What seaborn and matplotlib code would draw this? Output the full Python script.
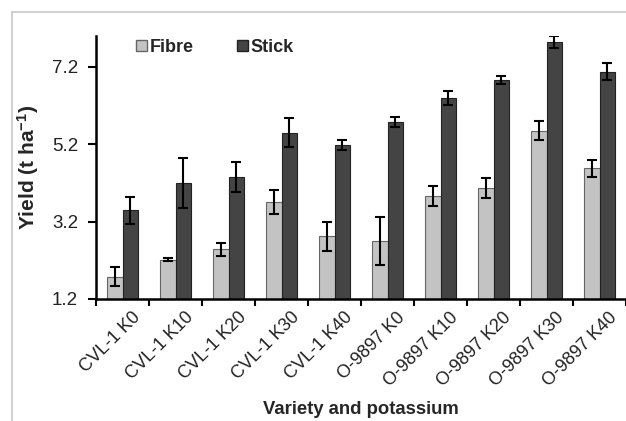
import numpy as np
import pandas as pd
import matplotlib
matplotlib.use("Agg")
import matplotlib.pyplot as plt
import seaborn as sns
from matplotlib.lines import Line2D

# Treatments (variety x potassium dose)
treatments = ["CVL-1 K0", "CVL-1 K10", "CVL-1 K20", "CVL-1 K30", "CVL-1 K40",
              "O-9897 K0", "O-9897 K10", "O-9897 K20", "O-9897 K30", "O-9897 K40"]
# Yields (t/ha)
fibre = [1.78, 2.22, 2.48, 3.71, 2.82, 2.70, 3.86, 4.07, 5.55, 4.58]
fibre_err = [0.25, 0.05, 0.16, 0.32, 0.38, 0.61, 0.26, 0.25, 0.24, 0.22]
stick = [3.49, 4.19, 4.36, 5.50, 5.18, 5.77, 6.40, 6.86, 7.85, 7.07]
stick_err = [0.35, 0.65, 0.39, 0.37, 0.12, 0.13, 0.18, 0.11, 0.15, 0.22]
yticks = [1.2, 3.2, 5.2, 7.2]

sns.set_style("white")
plt.rcParams["font.family"] = ["Liberation Sans", "DejaVu Sans"]
plt.rcParams["mathtext.fontset"] = "custom"
plt.rcParams["mathtext.rm"] = "Liberation Sans:bold"
plt.rcParams["mathtext.default"] = "rm"

df = pd.DataFrame({
    "treatment": treatments * 2,
    "yield": fibre + stick,
    "err": fibre_err + stick_err,
    "part": ["Fibre"] * len(treatments) + ["Stick"] * len(treatments),
})

fig = plt.figure(figsize=(6.26, 4.21), dpi=100)
ax = fig.add_axes([0.1534, 0.2898, 0.8466, 0.6247])

sns.barplot(data=df, x="treatment", y="yield", hue="part",
            palette={"Fibre": "#c3c3c3", "Stick": "#444444"},
            width=0.57, errorbar=None, ax=ax, legend=True)

# edges + error bars
edge = {"Fibre": "#666666", "Stick": "#222222"}
for container, part in zip(ax.containers, ["Fibre", "Stick"]):
    sub = df[df["part"] == part]
    xs = []
    for bar in container:
        bar.set_edgecolor(edge[part])
        bar.set_linewidth(0.8)
        xs.append(bar.get_x() + bar.get_width() / 2)
    ax.errorbar(xs, sub["yield"], yerr=sub["err"], fmt="none",
                ecolor="black", elinewidth=1.5, capsize=3.5, capthick=1.5)

ax.set_ylim(1.2, 8.0)
ax.set_xlim(-0.5, len(treatments) - 0.5)
ax.set_yticks(yticks)
ax.set_yticklabels([f"{v:.1f}" for v in yticks], fontsize=13.5, color="#222222")
# labels sit a little right of the group centre, like Excel does it
ax.set_xticks(np.arange(len(treatments)) + 0.17)
ax.set_xticklabels(treatments, rotation=45, ha="right", rotation_mode="anchor",
                   fontsize=13, color="#222222")
ax.set_xticks(np.arange(-0.5, len(treatments), 1), minor=True)
ax.tick_params(axis="x", which="major", length=0, pad=7)
ax.tick_params(axis="x", which="minor", length=5, width=1.5, color="black", bottom=True)
ax.tick_params(axis="y", length=6, width=1.5, color="black", left=True, pad=7)

for s in ["top", "right"]:
    ax.spines[s].set_visible(False)
for s in ["left", "bottom"]:
    ax.spines[s].set_color("black")
    ax.spines[s].set_linewidth(1.8)

ax.set_ylabel("Yield (t ha$^{-1}$)", fontsize=15, fontweight="bold", labelpad=8)
ax.set_xlabel("Variety and potassium", fontsize=13.3, fontweight="bold", labelpad=8)

leg = ax.legend(loc="upper left", bbox_to_anchor=(0.045, 1.05), ncol=2, frameon=False,
                handlelength=0.6, handleheight=0.6, handletextpad=0.15, columnspacing=2.4,
                prop={"weight": "bold", "size": 13})
for h, part in zip(leg.legend_handles, ["Fibre", "Stick"]):
    h.set_edgecolor(edge[part])

# light gray frame around the chart (cropped on right/bottom)
fig.add_artist(Line2D([11.5 / 626, 11.5 / 626], [0, 1 - 11.5 / 421],
                      transform=fig.transFigure, color="#c8c8c8", lw=1.2))
fig.add_artist(Line2D([11.5 / 626, 1], [1 - 11.5 / 421, 1 - 11.5 / 421],
                      transform=fig.transFigure, color="#c8c8c8", lw=1.2))

fig.savefig("out.png", dpi=100)
